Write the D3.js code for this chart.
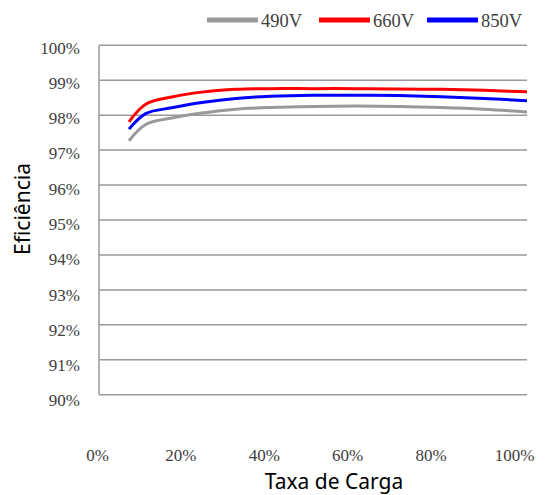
<!DOCTYPE html>
<html>
  <head>
    <meta charset="utf-8">
    <title></title>
  </head>
  <body>
  <style media="screen">
    body { margin:0; background:#fff; }
    svg { display:block; }
    .tick text { font-family:"Liberation Serif", serif; font-size:17px; fill:#404040; }
    .title { font-family:"Noto Sans", sans-serif; font-size:21px; fill:#000; }
    .leg { font-family:"Liberation Serif", serif; font-size:18.5px; fill:#404040; }
  </style>

<svg id="chart" width="552" height="495"></svg>

<script src="https://d3js.org/d3.v7.min.js"></script>
<script type="text/javascript">
    // taxa de carga (%) and eficiencia (%)
    var loads = [7, 11, 17, 24, 32, 40, 50, 60, 70, 80, 90, 100];
    var ef490 = [97.27, 97.74, 97.92, 98.06, 98.17, 98.22, 98.25, 98.26, 98.25, 98.22, 98.17, 98.09];
    var ef660 = [97.81, 98.32, 98.52, 98.66, 98.74, 98.76, 98.76, 98.76, 98.75, 98.74, 98.71, 98.67];
    var ef850 = [97.60, 98.05, 98.21, 98.36, 98.48, 98.54, 98.57, 98.57, 98.56, 98.53, 98.48, 98.41];
    var seriesNames = ['490V', '660V', '850V'];
    var seriesColors = ['#999999', '#ff0000', '#0000ff'];
    var yTicks = [90, 91, 92, 93, 94, 95, 96, 97, 98, 99, 100];
    var xTicks = [0, 20, 40, 60, 80, 100];

    var svg = d3.select('#chart');

    // plot area
    var x = d3.scaleLinear().domain([0, 100]).range([99, 527]);
    var y = d3.scaleLinear().domain([90, 100]).range([394.7, 45.3]);
    // label axes sit a little off the plot area, as in the original
    var xLab = d3.scaleLinear().domain([0, 100]).range([97, 514]);
    var yLab = d3.scaleLinear().domain([90, 100]).range([400.5, 47.7]);

    // gridlines
    svg.append('g')
      .selectAll('line')
      .data(yTicks)
      .enter().append('line')
        .attr('x1', x(0)).attr('x2', x(100))
        .attr('y1', d=>y(d)).attr('y2', d=>y(d))
        .style('stroke', '#999')
        .style('stroke-width', 1.5);

    svg.append('line')
      .attr('x1', x(0)).attr('x2', x(0))
      .attr('y1', y(100)).attr('y2', y(90))
      .style('stroke', '#999')
      .style('stroke-width', 1.5);

    // tick labels
    svg.append('g')
      .attr('transform', 'translate(80,0)')
      .call(d3.axisLeft(yLab).tickValues(yTicks).tickSize(0).tickPadding(0)
            .tickFormat(d=>d + '%'))
      .call(g=>g.select('.domain').remove());

    svg.append('g')
      .attr('transform', 'translate(0,449)')
      .call(d3.axisBottom(xLab).tickValues(xTicks).tickSize(0).tickPadding(0)
            .tickFormat(d=>d + '%'))
      .call(g=>g.select('.domain').remove());

    // series
    var line = d3.line()
      .x((d,i)=>x(loads[i]))
      .y(d=>y(d))
      .curve(d3.curveCatmullRom.alpha(0.5));

    svg.append('g')
      .selectAll('path')
      .data([ef490, ef660, ef850])
      .enter().append('path')
        .attr('d', line)
        .style('fill', 'none')
        .style('stroke', (d,i)=>seriesColors[i])
        .style('stroke-width', 3);

    // legend
    var legX = [207, 319, 427];
    var leg = svg.append('g')
      .selectAll('g')
      .data(seriesNames)
      .enter().append('g')
        .attr('transform', (d,i)=>'translate(' + legX[i] + ',20)');
    leg.append('line')
      .attr('x1', 0).attr('x2', 51)
      .style('stroke', (d,i)=>seriesColors[i])
      .style('stroke-width', 5);
    leg.append('text')
      .attr('class', 'leg')
      .attr('x', 54).attr('y', 6.5)
      .text(d=>d);

    // titles
    svg.append('text')
      .attr('class', 'title')
      .attr('x', 334).attr('y', 489)
      .attr('text-anchor', 'middle')
      .text('Taxa de Carga');

    svg.append('text')
      .attr('class', 'title')
      .attr('transform', 'translate(30,209) rotate(-90)')
      .attr('text-anchor', 'middle')
      .text('Eficiência');
</script>
  </body>
</html>
